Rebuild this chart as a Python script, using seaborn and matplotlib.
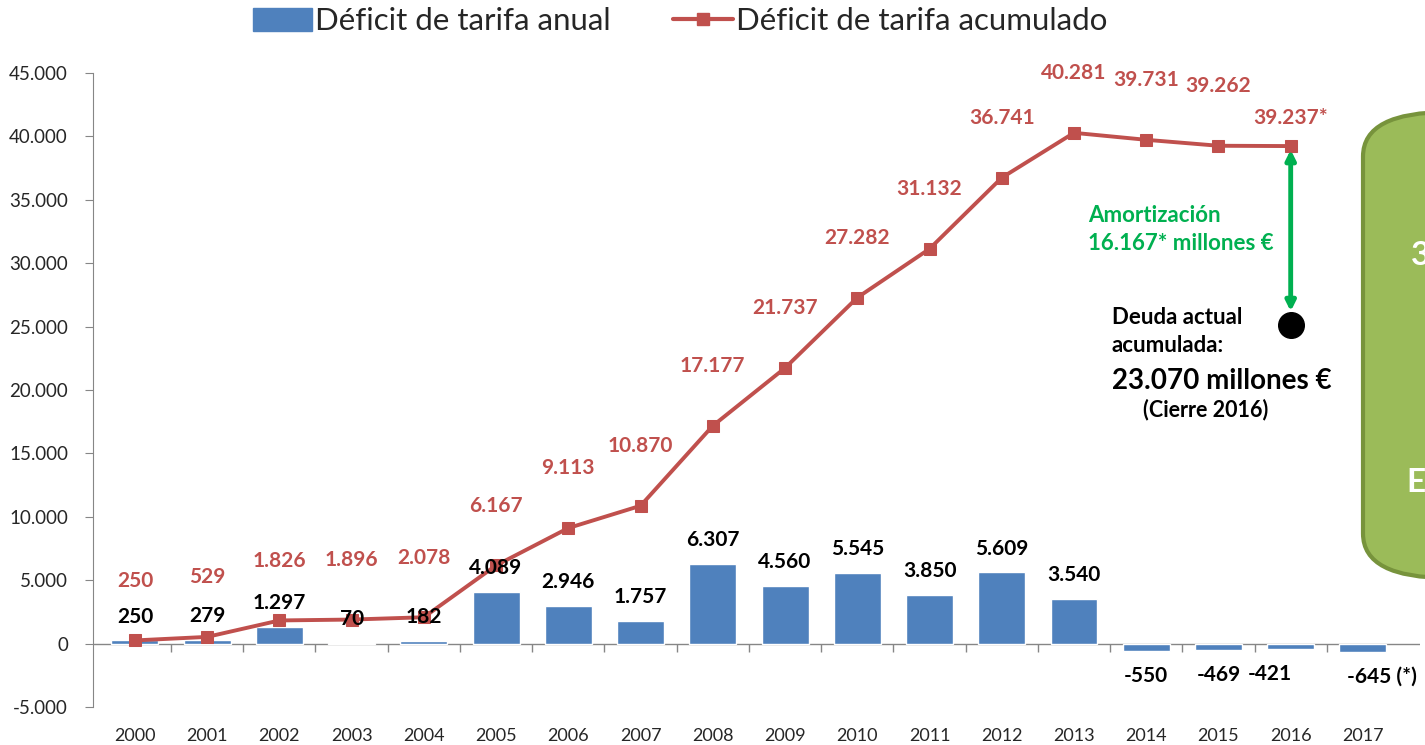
import numpy as np
import pandas as pd
import matplotlib
matplotlib.use("Agg")
import matplotlib.pyplot as plt
import seaborn as sns
from matplotlib.patches import FancyBboxPatch, Patch
from matplotlib.lines import Line2D
from matplotlib.ticker import FuncFormatter

# ==============================
# DATA
# ==============================
years = ["2000", "2001", "2002", "2003", "2004", "2005", "2006", "2007", "2008",
         "2009", "2010", "2011", "2012", "2013", "2014", "2015", "2016", "2017"]
deficit_anual = [250, 279, 1297, 70, 182, 4089, 2946, 1757, 6307,
                 4560, 5545, 3850, 5609, 3540, -550, -469, -421, -645]
anual_labels = ["250", "279", "1.297", "70", "182", "4.089", "2.946", "1.757", "6.307",
                "4.560", "5.545", "3.850", "5.609", "3.540", "-550", "-469", "-421", "-645 (*)"]
deficit_acum = [250, 529, 1826, 1896, 2078, 6167, 9113, 10870, 17177,
                21737, 27282, 31132, 36741, 40281, 39731, 39262, 39237]
acum_labels = ["250", "529", "1.826", "1.896", "2.078", "6.167", "9.113", "10.870", "17.177",
               "21.737", "27.282", "31.132", "36.741", "40.281", "39.731", "39.262", "39.237*"]
deuda_actual = 25150  # black dot position

BLUE = "#4F81BD"
RED = "#C0504D"
GREEN = "#00B050"

df = pd.DataFrame({"year": years, "anual": deficit_anual})

# ==============================
# FIGURE
# ==============================
sns.set_style("white")
plt.rcParams["font.family"] = ["Lato", "DejaVu Sans"]

fig = plt.figure(figsize=(14.25, 7.45), dpi=100)
ax = fig.add_axes([93 / 1425, 38 / 745, (1420 - 93) / 1425, (707 - 73) / 745])

sns.barplot(data=df, x="year", y="anual", color=BLUE, width=0.65,
            saturation=1, order=years, ax=ax, zorder=2)
sns.lineplot(x=np.arange(len(deficit_acum)), y=deficit_acum, color=RED,
             linewidth=2.8, marker="s", markersize=8, markeredgecolor=RED,
             ax=ax, zorder=3)

ax.set_xlim(-0.58, 17.79)
ax.set_ylim(-5000, 45000)
ax.set_yticks(np.arange(-5000, 45001, 5000))
ax.yaxis.set_major_formatter(FuncFormatter(lambda v, p: f"{int(v):,}".replace(",", ".")))
ax.set_xlabel("")
ax.set_ylabel("")

for s in ["top", "right", "bottom"]:
    ax.spines[s].set_visible(False)
ax.spines["left"].set_color("#868686")
ax.tick_params(axis="y", direction="out", length=6, color="#868686",
               labelsize=13.5, pad=12, left=True)
ax.tick_params(axis="x", length=0, labelsize=13, pad=15)

# zero axis line with category boundary ticks
ax.axhline(0, color="#868686", linewidth=1, zorder=1)
ax.vlines(np.arange(0.5, 17, 1), -650, 0, color="#868686", linewidth=1, zorder=1)

# ==============================
# LABELS
# ==============================
for i, (v, lab) in enumerate(zip(deficit_anual, anual_labels)):
    dx = 0
    if i == 16:
        dx = -15
    if i == 17:
        dx = 14
    if v >= 0:
        ax.annotate(lab, (i, v), xytext=(dx, 10), textcoords="offset points",
                    ha="center", va="bottom", fontsize=15, fontweight="bold",
                    color="black", zorder=5)
    else:
        ax.annotate(lab, (i, v), xytext=(dx, -11), textcoords="offset points",
                    ha="center", va="top", fontsize=15, fontweight="bold",
                    color="black", zorder=5)

for i, (v, lab) in enumerate(zip(deficit_acum, acum_labels)):
    dy = 43 if i != 16 else 20
    ax.annotate(lab, (i, v), xytext=(0, dy), textcoords="offset points",
                ha="center", va="center", fontsize=15, fontweight="bold",
                color=RED, zorder=5, annotation_clip=False)

# amortization arrow and current debt
ax.annotate("", xy=(16, 26200), xytext=(16, 38950),
            arrowprops=dict(arrowstyle="<|-|>", color=GREEN, lw=3.5,
                            mutation_scale=14, shrinkA=0, shrinkB=0), zorder=4)
ax.scatter([16], [deuda_actual], s=340, color="black", zorder=5)

fig.text(1088 / 1425, 1 - 215 / 745, "Amortización", color=GREEN, fontsize=16,
         fontweight="bold", ha="left", va="center")
fig.text(1088 / 1425, 1 - 244 / 745, "16.167* millones €", color=GREEN, fontsize=16,
         fontweight="bold", ha="left", va="center")
fig.text(1112 / 1425, 1 - 317 / 745, "Deuda actual", color="black", fontsize=16,
         fontweight="bold", ha="left", va="center")
fig.text(1112 / 1425, 1 - 345 / 745, "acumulada:", color="black", fontsize=16,
         fontweight="bold", ha="left", va="center")
fig.text(1112 / 1425, 1 - 381 / 745, "23.070 millones €", color="black", fontsize=20,
         fontweight="bold", ha="left", va="center")
fig.text(1206 / 1425, 1 - 410 / 745, "(Cierre 2016)", color="black", fontsize=15.5,
         fontweight="bold", ha="center", va="center")

# green rounded box cut at the right edge
box = FancyBboxPatch((1363 / 1425, 1 - 578 / 745), 0.2, (578 - 112) / 745,
                     boxstyle="round,pad=0,rounding_size=0.06",
                     transform=fig.transFigure, facecolor="#9BBB59",
                     edgecolor="#77933C", linewidth=3, zorder=0,
                     mutation_aspect=745 / 1425 * 1.9)
fig.patches.append(box)
fig.text(1411 / 1425, 1 - 255 / 745, "3", color="white", fontsize=24,
         fontweight="bold", ha="left", va="center")
fig.text(1406 / 1425, 1 - 483 / 745, "E", color="white", fontsize=24,
         fontweight="bold", ha="left", va="center")

# ==============================
# LEGEND
# ==============================
handles = [
    Patch(facecolor=BLUE, edgecolor=BLUE),
    Line2D([0], [0], color=RED, linewidth=3, marker="s", markersize=9),
]
fig.legend(handles, ["Déficit de tarifa anual", "Déficit de tarifa acumulado"],
           loc="center", bbox_to_anchor=(680 / 1425, 1 - 21 / 745), ncol=2,
           frameon=False, fontsize=22.5, handlelength=1.9, handletextpad=0.1,
           columnspacing=2.0, handleheight=0.75)

fig.savefig("out.png", dpi=100)
